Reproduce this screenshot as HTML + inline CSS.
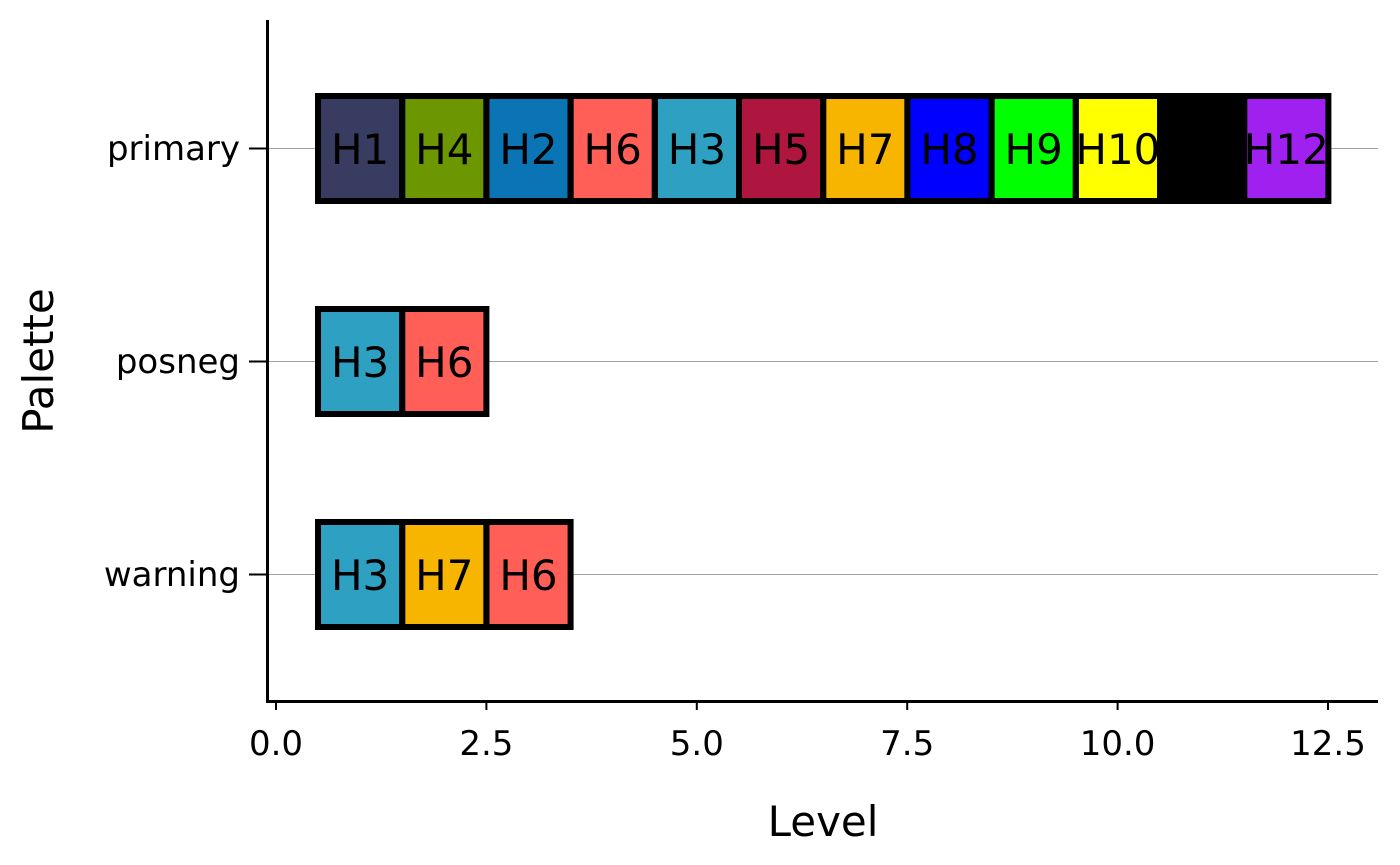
<!DOCTYPE html>
<html><head><meta charset="utf-8"><style>
html,body{margin:0;padding:0;background:#fff}
svg{display:block;font-family:"DejaVu Sans","Liberation Sans",sans-serif}
</style></head><body>
<svg width="1400" height="865" viewBox="0 0 1400 865" xmlns="http://www.w3.org/2000/svg">
<g stroke="#a0a0a0" stroke-width="1">
<line x1="268" y1="148.5" x2="1378" y2="148.5"/>
<line x1="268" y1="361.5" x2="1378" y2="361.5"/>
<line x1="268" y1="574.5" x2="1378" y2="574.5"/>
</g>
<g>
<rect x="318" y="96" width="84.2" height="105" fill="#393c61"/>
<rect x="402.2" y="96" width="84.2" height="105" fill="#6c9700"/>
<rect x="486.4" y="96" width="84.2" height="105" fill="#0a74b4"/>
<rect x="570.6" y="96" width="84.2" height="105" fill="#ff5f57"/>
<rect x="654.8" y="96" width="84.2" height="105" fill="#2ea1c3"/>
<rect x="739" y="96" width="84.2" height="105" fill="#ae1640"/>
<rect x="823.2" y="96" width="84.2" height="105" fill="#f7b500"/>
<rect x="907.4" y="96" width="84.2" height="105" fill="#0000ff"/>
<rect x="991.6" y="96" width="84.2" height="105" fill="#00ff00"/>
<rect x="1075.8" y="96" width="84.2" height="105" fill="#ffff00"/>
<rect x="1160" y="96" width="84.2" height="105" fill="#000000"/>
<rect x="1244.2" y="96" width="84.2" height="105" fill="#a020f0"/>
<rect x="318" y="309" width="84.2" height="105" fill="#2ea1c3"/>
<rect x="402.2" y="309" width="84.2" height="105" fill="#ff5f57"/>
<rect x="318" y="522" width="84.2" height="105" fill="#2ea1c3"/>
<rect x="402.2" y="522" width="84.2" height="105" fill="#f7b500"/>
<rect x="486.4" y="522" width="84.2" height="105" fill="#ff5f57"/>
</g>
<g font-size="42" text-anchor="middle" fill="#000">
<text x="360.1" y="164">H1</text>
<text x="444.3" y="164">H4</text>
<text x="528.5" y="164">H2</text>
<text x="612.7" y="164">H6</text>
<text x="696.9" y="164">H3</text>
<text x="781.1" y="164">H5</text>
<text x="865.3" y="164">H7</text>
<text x="949.5" y="164">H8</text>
<text x="1033.7" y="164">H9</text>
<text x="1117.9" y="164">H10</text>
<text x="1202.1" y="164">H11</text>
<text x="1286.3" y="164">H12</text>
<text x="360.1" y="377">H3</text>
<text x="444.3" y="377">H6</text>
<text x="360.1" y="590">H3</text>
<text x="444.3" y="590">H7</text>
<text x="528.5" y="590">H6</text>
</g>
<g fill="none" stroke="#000" stroke-width="6">
<rect x="318" y="96" width="84.2" height="105"/>
<rect x="402.2" y="96" width="84.2" height="105"/>
<rect x="486.4" y="96" width="84.2" height="105"/>
<rect x="570.6" y="96" width="84.2" height="105"/>
<rect x="654.8" y="96" width="84.2" height="105"/>
<rect x="739" y="96" width="84.2" height="105"/>
<rect x="823.2" y="96" width="84.2" height="105"/>
<rect x="907.4" y="96" width="84.2" height="105"/>
<rect x="991.6" y="96" width="84.2" height="105"/>
<rect x="1075.8" y="96" width="84.2" height="105"/>
<rect x="1160" y="96" width="84.2" height="105"/>
<rect x="1244.2" y="96" width="84.2" height="105"/>
<rect x="318" y="309" width="84.2" height="105"/>
<rect x="402.2" y="309" width="84.2" height="105"/>
<rect x="318" y="522" width="84.2" height="105"/>
<rect x="402.2" y="522" width="84.2" height="105"/>
<rect x="486.4" y="522" width="84.2" height="105"/>
</g>
<g stroke="#000">
<line x1="267.5" y1="20" x2="267.5" y2="702" stroke-width="3"/>
<line x1="266" y1="701.5" x2="1378" y2="701.5" stroke-width="3"/>
<g stroke-width="2">
<line x1="249" y1="148.5" x2="267" y2="148.5"/>
<line x1="249" y1="361.5" x2="267" y2="361.5"/>
<line x1="249" y1="574.5" x2="267" y2="574.5"/>
<line x1="276" y1="702" x2="276" y2="710"/>
<line x1="486.4" y1="702" x2="486.4" y2="710"/>
<line x1="696.8" y1="702" x2="696.8" y2="710"/>
<line x1="907.2" y1="702" x2="907.2" y2="710"/>
<line x1="1117.6" y1="702" x2="1117.6" y2="710"/>
<line x1="1328" y1="702" x2="1328" y2="710"/>
</g>
</g>
<g font-size="34" fill="#000">
<g text-anchor="end">
<text x="240" y="160">primary</text>
<text x="240" y="373">posneg</text>
<text x="240" y="586">warning</text>
</g>
<g text-anchor="middle">
<text x="276" y="755">0.0</text>
<text x="486.4" y="755">2.5</text>
<text x="696.8" y="755">5.0</text>
<text x="907.2" y="755">7.5</text>
<text x="1117.6" y="755">10.0</text>
<text x="1328" y="755">12.5</text>
</g>
</g>
<text x="823" y="836" font-size="42" text-anchor="middle">Level</text>
<text x="0" y="0" font-size="42" text-anchor="middle" transform="translate(53,361) rotate(-90)">Palette</text>
</svg>
</body></html>
